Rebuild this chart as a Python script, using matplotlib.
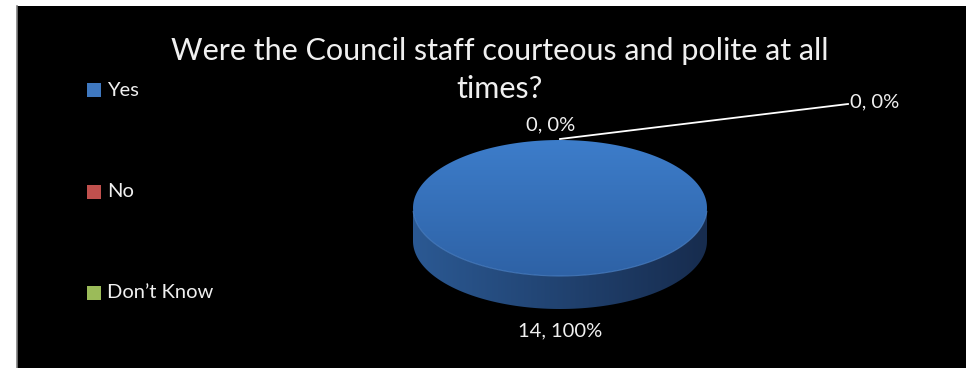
import matplotlib
matplotlib.use("Agg")
import matplotlib.pyplot as plt
import numpy as np
from matplotlib.patches import Polygon, Rectangle

# Survey responses
categories = ["Yes", "No", "Don\u2019t Know"]
counts = [14, 0, 0]
colors = ["#3f78c0", "#c0504d", "#9bbb59"]
title = "Were the Council staff courteous and polite at all\ntimes?"

W, H = 966, 368
FONT = "Lato"
TEXT_COLOR = "#f0f0f0"

fig = plt.figure(figsize=(W / 100, H / 100), dpi=100)
fig.patch.set_facecolor("white")
ax = fig.add_axes([0, 0, 1, 1])
ax.set_xlim(0, W)
ax.set_ylim(H, 0)
ax.axis("off")

# Chart area
ax.add_patch(Rectangle((17, 6), W - 17, H - 6, facecolor="black", edgecolor="none"))
ax.plot([17, 17], [6, H], color="#808080", lw=1.2)

# 3D pie geometry (pixel space)
cx, cy, a, b, depth = 560, 208, 147, 68, 33
total = sum(counts)


def ellipse_pts(t0, t1, dy=0, n=200):
    t = np.linspace(t0, t1, n)
    return np.column_stack([cx + a * np.cos(t), cy + b * np.sin(t) + dy])


def gradient_fill(patch, c0, c1, horizontal=False):
    ax.add_patch(patch)
    patch.set_facecolor("none")
    patch.set_edgecolor("none")
    xs, ys = patch.get_xy()[:, 0], patch.get_xy()[:, 1]
    x0, x1, y0, y1 = xs.min(), xs.max(), ys.min(), ys.max()
    g = np.linspace(0, 1, 256)
    c0 = np.array(matplotlib.colors.to_rgb(c0))
    c1 = np.array(matplotlib.colors.to_rgb(c1))
    if horizontal:
        img = (c0[None, None, :] * (1 - g)[None, :, None] + c1[None, None, :] * g[None, :, None])
    else:
        img = (c0[None, None, :] * (1 - g)[:, None, None] + c1[None, None, :] * g[:, None, None])
    im = ax.imshow(img, extent=(x0, x1, y1, y0), aspect="auto", zorder=2,
                   interpolation="bilinear")
    im.set_clip_path(patch)


start = -np.pi / 2
for value, color in zip(counts, colors):
    if value == 0:
        continue
    sweep = 2 * np.pi * value / total
    t0, t1 = start, start + sweep
    # front side band (visible where sin(t) > 0)
    s0, s1 = max(t0, 0), min(t1, np.pi)
    if s1 > s0:
        top_edge = ellipse_pts(s0, s1)
        bottom_edge = ellipse_pts(s1, s0, dy=depth)
        side = Polygon(np.vstack([top_edge, bottom_edge]), closed=True)
        gradient_fill(side, "#2b5993", "#172c4e", horizontal=True)
    # top surface
    pts = ellipse_pts(t0, t1)
    if value < total:
        pts = np.vstack([[cx, cy], pts])
    top = Polygon(pts, closed=True)
    gradient_fill(top, "#3d7dca", "#2e62a6")
    start = t1

# light rim along the front of the top surface
rim = ellipse_pts(0.05, np.pi - 0.05)
ax.plot(rim[:, 0], rim[:, 1], color="#4f86cc", lw=0.8, alpha=0.7, zorder=3)

# Data labels
labels = [f"{v}, {100 * v / total:.0f}%" for v in counts]
ax.text(cx, 331, labels[0], color=TEXT_COLOR, fontsize=14.5, family=FONT,
        ha="center", va="center")
ax.text(551, 125, labels[1], color=TEXT_COLOR, fontsize=14.5, family=FONT,
        ha="center", va="center")
ax.text(850, 102, labels[2], color=TEXT_COLOR, fontsize=14.5, family=FONT,
        ha="left", va="center")
ax.plot([560, 848], [139, 104], color="white", lw=1.3, zorder=4)

# Title
ax.text(500, 70, title, color=TEXT_COLOR, fontsize=22, family=FONT,
        ha="center", va="center", linespacing=1.4)

# Legend
for i, (name, color) in enumerate(zip(categories, colors)):
    y = 90 + 101.5 * i
    ax.add_patch(Rectangle((87, y - 7), 14, 14, facecolor=color, edgecolor="none"))
    ax.text(107, y, name, color=TEXT_COLOR, fontsize=14.5, family=FONT,
            ha="left", va="center")

fig.savefig("out.png", dpi=100, facecolor=fig.get_facecolor())
